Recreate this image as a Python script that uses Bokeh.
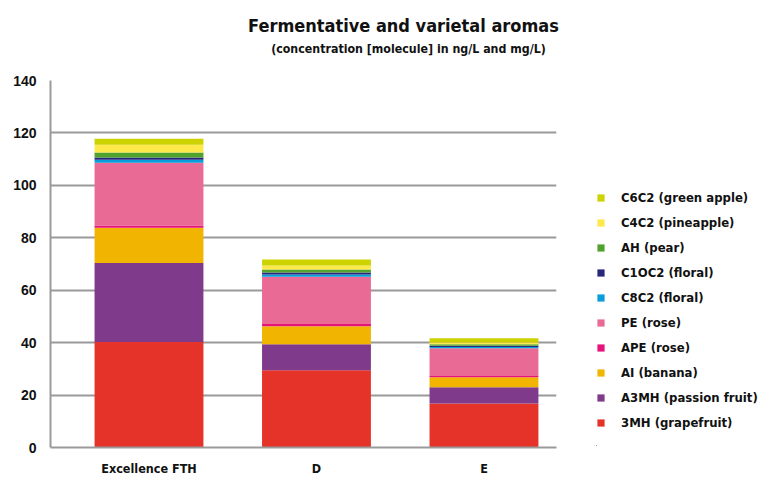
from bokeh.plotting import figure
from bokeh.layouts import row, column
from bokeh.models import Range1d, Legend, LegendItem, Label, ColumnDataSource, FixedTicker
from bokeh.embed import file_html
from bokeh.resources import INLINE

categories = ["Excellence FTH", "D", "E"]
series_names = ["3MH (grapefruit)", "A3MH (passion fruit)", "AI (banana)", "APE (rose)",
                "PE (rose)", "C8C2 (floral)", "C1OC2 (floral)", "AH (pear)",
                "C4C2 (pineapple)", "C6C2 (green apple)"]
mh3 = [40.2, 29.5, 16.8]
a3mh = [30.2, 9.9, 6.2]
ai = [13.4, 6.9, 3.8]
ape = [0.9, 0.8, 0.5]
pe = [23.9, 18.0, 10.6]
c8c2 = [1.2, 0.9, 0.4]
c10c2 = [0.8, 0.8, 0.5]
ah = [1.9, 1.1, 0.6]
c4c2 = [3.0, 1.5, 0.7]
c6c2 = [2.3, 2.3, 1.6]
y_ticks = [0, 20, 40, 60, 80, 100, 120, 140]
title_text = "Fermentative and varietal aromas"
subtitle_text = "(concentration [molecule] in ng/L and mg/L)"

colors = ["#E5332A", "#7F3A8B", "#F1B400", "#E6137B", "#EA6A96",
          "#0A9DDB", "#27287B", "#52A22E", "#FFE84A", "#CDD300"]

keys = ["s%d" % i for i in range(10)]
xs = list(range(len(categories)))
data = {"x": xs}
for k, v in zip(keys, [mh3, a3mh, ai, ape, pe, c8c2, c10c2, ah, c4c2, c6c2]):
    data[k] = v
source = ColumnDataSource(data)

FONT = "DejaVu Sans Condensed"
INK = "#111111"


def bare(fig):
    fig.outline_line_color = None
    fig.xgrid.grid_line_color = None
    fig.ygrid.grid_line_color = None
    fig.background_fill_color = "white"
    fig.border_fill_color = "white"


# ---- header with title and subtitle ----
h = figure(width=760, height=60, output_backend="svg", toolbar_location=None, title=None,
           x_range=Range1d(0, 760), y_range=Range1d(60, 0),
           x_axis_type=None, y_axis_type=None, min_border=0)
bare(h)
h.add_layout(Label(x=403, y=24.5, text=title_text, text_align="center",
                   text_baseline="middle", text_font=FONT, text_font_size="18px",
                   text_font_style="bold", text_color=INK))
h.add_layout(Label(x=408, y=48, text=subtitle_text, text_align="center",
                   text_baseline="middle", text_font=FONT, text_font_size="12.3px",
                   text_font_style="bold", text_color=INK))

# ---- main chart ----
p = figure(frame_width=506, frame_height=367, output_backend="svg", toolbar_location=None,
           title=None, x_range=Range1d(-0.588, 2.433), y_range=Range1d(0, 140),
           min_border_left=50, min_border_right=30, min_border_top=20, min_border_bottom=0)
p.outline_line_color = None
p.background_fill_color = "white"
p.border_fill_color = "white"

p.vbar_stack(keys, x="x", width=0.65, source=source, color=colors, line_color=None)

p.xgrid.grid_line_color = None
p.ygrid.grid_line_color = "#9a9a9a"
p.ygrid.grid_line_width = 2
p.yaxis.ticker = FixedTicker(ticks=y_ticks)
p.xaxis.ticker = FixedTicker(ticks=xs)
p.xaxis.major_label_overrides = {i: c for i, c in enumerate(categories)}

for ax in (p.xaxis[0], p.yaxis[0]):
    ax.axis_line_color = "#9a9a9a"
    ax.axis_line_width = 2
    ax.major_tick_line_color = None
    ax.minor_tick_line_color = None
    ax.major_tick_out = 0
    ax.major_tick_in = 0
    ax.minor_tick_out = 0
    ax.major_label_text_font_style = "bold"
    ax.major_label_text_color = INK

p.yaxis.major_label_text_font = "Liberation Sans"
p.yaxis.major_label_text_font_size = "14px"
p.yaxis.major_label_standoff = 14
p.xaxis.major_label_text_font = FONT
p.xaxis.major_label_text_font_size = "12.5px"
p.xaxis.major_label_standoff = 13

# ---- legend panel (its frame is aligned with the chart frame by the row) ----
q = figure(width=174, height=416, output_backend="svg", toolbar_location=None, title=None,
           x_range=Range1d(100, 101), y_range=Range1d(1000, 1001),
           x_axis_type=None, y_axis_type=None,
           min_border_left=10, min_border_top=0, min_border_right=0, min_border_bottom=0)
bare(q)
leg_renderers = q.vbar_stack(keys, x="x", width=0.65, source=source, color=colors, line_color=None)

items = [LegendItem(label=n, renderers=[r]) for n, r in zip(series_names, leg_renderers)]
items = items[::-1]
legend = Legend(items=items, location=(0, 10), orientation="vertical",
                glyph_width=9, glyph_height=9, label_height=25, spacing=0,
                label_standoff=16, padding=0, margin=0,
                border_line_color=None, background_fill_alpha=0,
                label_text_font=FONT, label_text_font_size="13px",
                label_text_font_style="bold", label_text_color=INK)
q.add_layout(legend, "center")

layout = column(h, row(p, q, spacing=0), spacing=0)
open("out.html", "w").write(file_html(layout, INLINE))
